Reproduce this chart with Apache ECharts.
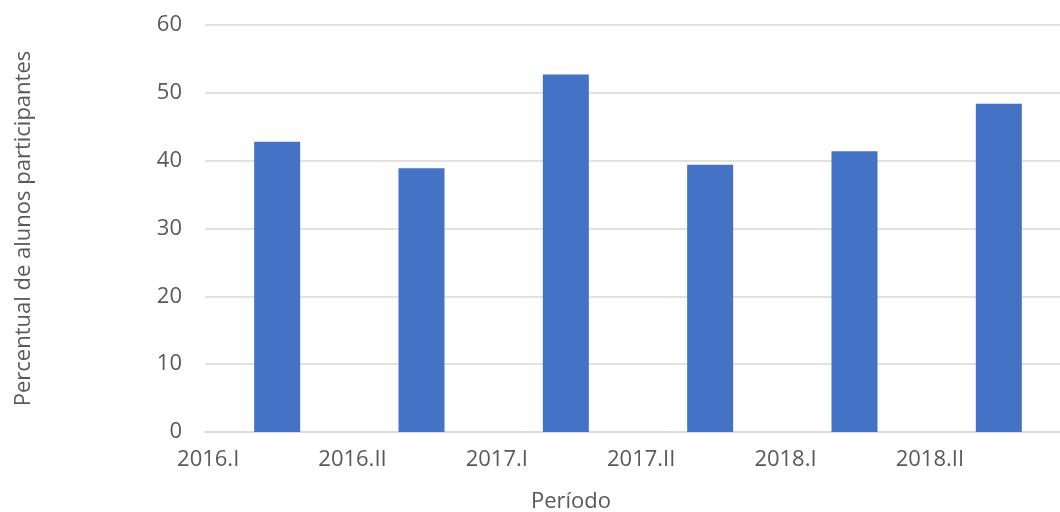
<!DOCTYPE html>
<html>
<head>
<meta charset="utf-8">
<script src="https://cdn.jsdelivr.net/npm/echarts@6/dist/echarts.min.js"></script>
<style>
  html, body { margin: 0; padding: 0; background: #ffffff; }
  #chart { width: 1060px; height: 512px; }
</style>
</head>
<body>
<div id="chart"></div>
<script>
const periods = ['2016.I', '2016.II', '2017.I', '2017.II', '2018.I', '2018.II'];
const percentages = [42.8, 38.9, 52.7, 39.4, 41.4, 48.4];
const yTicks = { min: 0, max: 60, interval: 10 };

const textColor = '#595959';
const fontFamily = '"Open Sans", "DejaVu Sans", sans-serif';

const chart = echarts.init(document.getElementById('chart'), null, { renderer: 'canvas' });
chart.setOption({
  animation: false,
  backgroundColor: '#ffffff',
  grid: { left: 205, top: 25, width: 866, bottom: 80, containLabel: false, outerBoundsMode: 'none' },
  xAxis: {
    type: 'category',
    data: periods,
    boundaryGap: true,
    axisLine: { show: true, lineStyle: { color: '#d9d9d9', width: 1.5 } },
    axisTick: { show: false },
    axisLabel: {
      interval: 0,
      color: textColor,
      fontFamily: fontFamily,
      fontSize: 22,
      margin: 17,
      align: 'center',
      padding: [0, 138, 0, 0]
    },
    name: 'Período',
    nameLocation: 'middle',
    nameGap: 59,
    nameTextStyle: { color: textColor, fontFamily: fontFamily, fontSize: 22, padding: [0, 134, 0, 0] }
  },
  yAxis: {
    type: 'value',
    min: yTicks.min,
    max: yTicks.max,
    interval: yTicks.interval,
    axisLine: { show: false },
    axisTick: { show: false },
    splitLine: { show: true, lineStyle: { color: '#d9d9d9', width: 1.5 } },
    axisLabel: { color: textColor, fontFamily: fontFamily, fontSize: 22, margin: 23 },
    name: 'Percentual de alunos participantes',
    nameLocation: 'middle',
    nameGap: 170,
    nameTextStyle: { color: textColor, fontFamily: fontFamily, fontSize: 22 }
  },
  series: [{
    type: 'bar',
    data: percentages,
    barWidth: 46,
    itemStyle: { color: '#4472C4' }
  }]
});
</script>
</body>
</html>
